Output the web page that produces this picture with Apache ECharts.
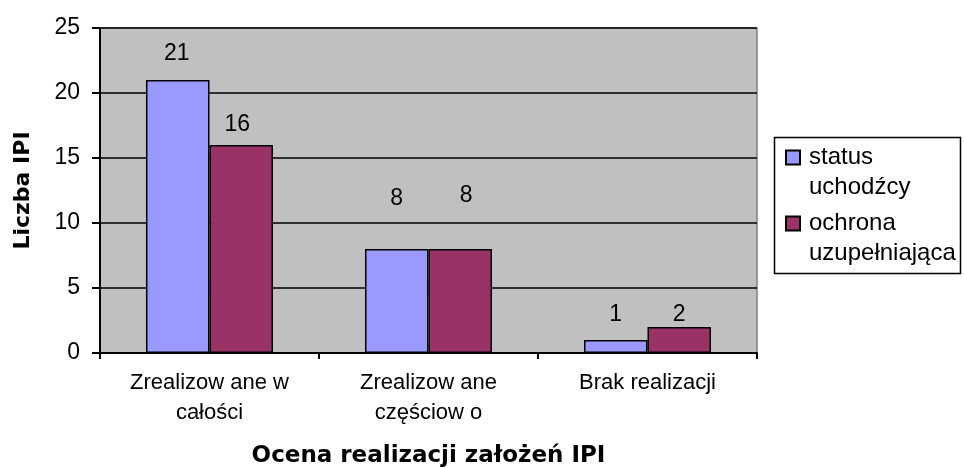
<!DOCTYPE html>
<html>
<head>
<meta charset="utf-8">
<script src="https://cdn.jsdelivr.net/npm/echarts@6/dist/echarts.min.js"></script>
<style>
  html, body { margin: 0; padding: 0; background: #ffffff; }
  #chart { width: 964px; height: 468px; }
</style>
</head>
<body>
<div id="chart"></div>
<script>
// Categories (assessment of IPI outcome) and the two series of counts
const categories = ['Zrealizow ane w\ncałości', 'Zrealizow ane\nczęściow o', 'Brak realizacji'];
const seriesNames = ['status\nuchodźcy', 'ochrona\nuzupełniająca'];
const statusUchodzcy = [21, 8, 1];
const ochronaUzupelniajaca = [16, 8, 2];
const yMin = 0;
const yMax = 25;
const yStep = 5;

// Per-bar nudges for the value labels (dx, dy in px)
const labelNudgeA = [[-1, -15], [0, -39], [0, -14]];
const labelNudgeB = [[-4, -9], [6, -42], [0, -1]];

const FONT = "'Liberation Sans', Arial, sans-serif";
const BOLD_FONT = "'DejaVu Sans', sans-serif";

function withLabels(values, nudges) {
  return values.map((v, i) => ({ value: v, label: { offset: nudges[i] } }));
}

const chart = echarts.init(document.getElementById('chart'), null, { renderer: 'canvas' });

const barLabel = {
  show: true,
  position: 'top',
  distance: 0,
  color: '#000',
  fontFamily: FONT,
  fontSize: 23
};

chart.setOption({
  animation: false,
  backgroundColor: '#ffffff',
  textStyle: { fontFamily: FONT },
  grid: {
    left: 100,
    top: 28,
    right: 207,
    bottom: 115,
    outerBoundsMode: 'none',
    containLabel: false,
    show: true,
    backgroundColor: '#c0c0c0',
    borderColor: '#808080',
    borderWidth: 1.5
  },
  // frame around the legend entries
  graphic: [{
    type: 'rect',
    z: 0,
    shape: { x: 774.5, y: 137.5, width: 186, height: 136 },
    style: { fill: '#ffffff', stroke: '#000', lineWidth: 1.5 }
  }],
  legend: {
    orient: 'vertical',
    left: 785,
    top: 112.5,
    padding: 0,
    itemGap: -24,
    itemWidth: 14,
    itemHeight: 14,
    icon: 'rect',
    // a leading empty line keeps the icon level with the first text line
    formatter: name => '\n' + name,
    textStyle: {
      fontFamily: FONT,
      fontSize: 24,
      lineHeight: 30,
      color: '#000',
      padding: [0, 0, 0, 4]
    },
    data: seriesNames
  },
  xAxis: {
    type: 'category',
    data: categories,
    name: 'Ocena realizacji założeń IPI',
    nameLocation: 'middle',
    nameGap: 92,
    nameTextStyle: {
      fontFamily: BOLD_FONT,
      fontWeight: 'bold',
      fontSize: 23,
      color: '#000'
    },
    axisLine: { show: true, lineStyle: { color: '#000', width: 2 } },
    axisTick: { show: true, length: 6, lineStyle: { color: '#000', width: 2 } },
    axisLabel: {
      color: '#000',
      fontFamily: FONT,
      fontSize: 22,
      lineHeight: 30,
      margin: 15,
      interval: 0
    },
    splitLine: { show: false }
  },
  yAxis: {
    type: 'value',
    min: yMin,
    max: yMax,
    interval: yStep,
    name: 'Liczba IPI',
    nameLocation: 'middle',
    nameGap: 66,
    nameTextStyle: {
      fontFamily: BOLD_FONT,
      fontWeight: 'bold',
      fontSize: 22,
      color: '#000'
    },
    axisLine: { show: true, lineStyle: { color: '#000', width: 2 } },
    axisTick: { show: true, length: 8, lineStyle: { color: '#000', width: 2 } },
    axisLabel: {
      color: '#000',
      fontFamily: FONT,
      fontSize: 23,
      margin: 20
    },
    splitLine: { show: true, lineStyle: { color: '#000', width: 1.5 } }
  },
  series: [
    {
      name: seriesNames[0],
      type: 'bar',
      data: withLabels(statusUchodzcy, labelNudgeA),
      barGap: '0%',
      barCategoryGap: '42%',
      itemStyle: { color: '#9999ff', borderColor: '#000', borderWidth: 1.5 },
      label: barLabel
    },
    {
      name: seriesNames[1],
      type: 'bar',
      data: withLabels(ochronaUzupelniajaca, labelNudgeB),
      barGap: '0%',
      barCategoryGap: '42%',
      itemStyle: { color: '#993366', borderColor: '#000', borderWidth: 1.5 },
      label: barLabel
    }
  ]
});
</script>
</body>
</html>
